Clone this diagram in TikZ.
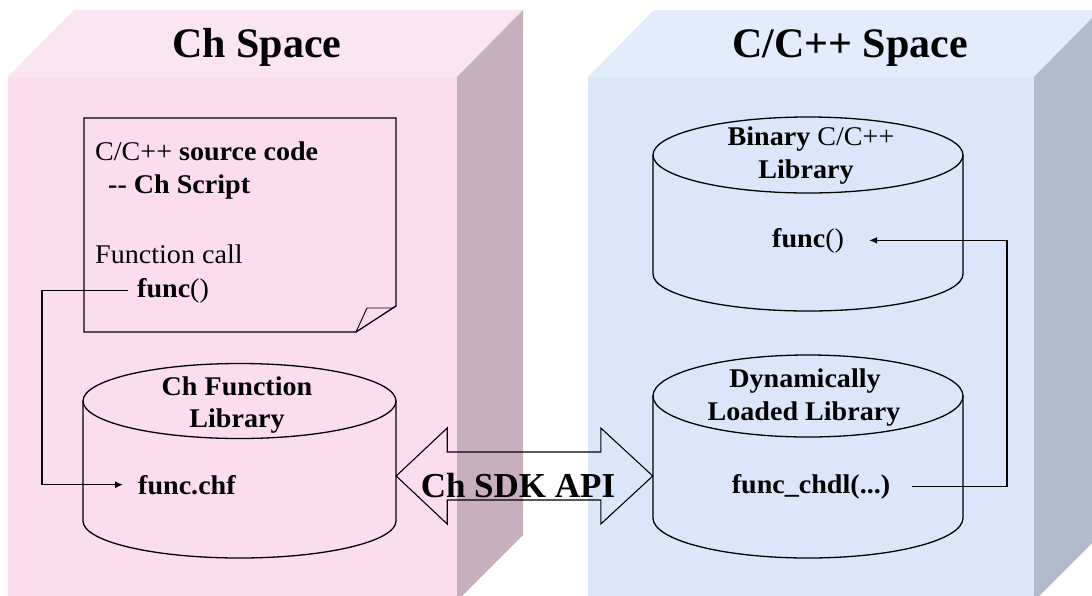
\documentclass[tikz,border=0pt]{standalone}
\usepackage{fontspec}
\setmainfont{Liberation Serif}
\newfontfamily\bodyfont{Liberation Serif}[FakeStretch=1.04]
\usetikzlibrary{arrows.meta,calc}
\definecolor{pinkfront}{RGB}{252,221,240}
\definecolor{pinktop}{RGB}{252,229,242}
\definecolor{pinkside}{RGB}{200,175,192}
\definecolor{bluefront}{RGB}{220,230,250}
\definecolor{bluetop}{RGB}{226,236,252}
\definecolor{blueside}{RGB}{178,187,204}
\begin{document}
\begin{tikzpicture}[x=1pt,y=-1pt,
  outline/.style={draw=black,line width=1.3pt},
  conn/.style={draw=black,line width=1.3pt,-{Latex[length=8pt,width=7pt]}},
  txt/.style={inner sep=0pt,font=\bodyfont\fontsize{27}{33}\selectfont},
  btxt/.style={inner sep=0pt,font=\bodyfont\fontsize{27}{33}\selectfont\bfseries},
  title/.style={inner sep=0pt,font=\fontsize{42}{50}\selectfont\bfseries,anchor=base},
  sdkfont/.style={inner sep=0pt,font=\fontsize{35}{40}\selectfont\bfseries,anchor=base},
  cylbox/.style={inner sep=0pt,minimum width=#1}
]
\clip (0,0) rectangle (1092,595);
\fill[white] (0,0) rectangle (1092,595);
% ---- Ch space block
\fill[pinkfront] (8,77) rectangle (457,601);
\fill[pinktop] (8,77) -- (74,10) -- (523,10) -- (457,77) -- cycle;
\fill[pinkside] (457,77) -- (523,10) -- (523,535) -- (457,601) -- cycle;
% ---- C/C++ space block
\fill[bluefront] (588,77) rectangle (1034,601);
\fill[bluetop] (588,77) -- (654,10) -- (1100,10) -- (1034,77) -- cycle;
\fill[blueside] (1034,77) -- (1100,10) -- (1100,535) -- (1034,601) -- cycle;
% titles
\node[title] (t1) at (257,57) {Ch Space};
\node[title] (t2) at (850,57) {C/C++ Space};
% ---- source code note
\draw[outline,line join=miter] (84,118) -- (396,118) -- (396,306) -- (356,332) -- (84,332) -- cycle;
\draw[black,line width=0.9pt] (356,332) -- (367,308) -- (394,308);
\node[txt,anchor=base west] (n1) at (95,160) {C/C++ \textbf{source code}};
\node[btxt,anchor=base west] (n2) at (108,193) {-{}- Ch Script};
\node[txt,anchor=base west] (n3) at (95,263) {Function call};
\node[txt,anchor=base west,inner xsep=9pt] (f1) at (128,297) {\textbf{func}()};
% ---- Ch Function Library cylinder
\node[cylbox=313pt,minimum height=195pt] (cyl1) at (239.5,460.5) {};
\draw[outline] (239.5,401) ellipse [x radius=156.5pt, y radius=37.5pt];
\draw[outline] (83,401) -- (83,521) arc[start angle=180,end angle=360,x radius=156.5pt,y radius=37pt] -- (396,401);
\node[btxt,anchor=base] (c1a) at (237,395) {Ch Function};
\node[btxt,anchor=base] (c1b) at (237,427) {Library};
\node[btxt,anchor=base west,inner xsep=15pt] (fchf) at (123,494) {func.chf};
\coordinate (xl) at (42,0);
\draw[conn] (f1.west) -- (f1.west -| xl) |- (fchf.west);
% ---- Binary C/C++ Library cylinder
\node[cylbox=310pt,minimum height=194pt] (cyl2) at (808,214) {};
\draw[outline] (808,155) ellipse [x radius=155pt, y radius=38pt];
\draw[outline] (653,155) -- (653,274) arc[start angle=180,end angle=360,x radius=155pt,y radius=37pt] -- (963,155);
\node[txt,anchor=base] (c2a) at (811,145) {\textbf{Binary} C/C++};
\node[btxt,anchor=base] (c2b) at (806,178) {Library};
\node[txt,anchor=base west,inner xsep=25pt] (fbin) at (747,247) {\textbf{func}()};
% ---- Dynamically Loaded Library cylinder
\node[cylbox=310pt,minimum height=205pt] (cyl3) at (808,455.5) {};
\draw[outline] (808,396) ellipse [x radius=155pt, y radius=41pt];
\draw[outline] (653,396) -- (653,518) arc[start angle=180,end angle=360,x radius=155pt,y radius=40pt] -- (963,396);
\node[btxt,anchor=base] (c3a) at (805,387) {Dynamically};
\node[btxt,anchor=base] (c3b) at (804,420) {Loaded Library};
\node[btxt,anchor=base,inner xsep=22pt] (fchdl) at (811,493) {func\_chdl(...)};
\coordinate (xr) at (1007,0);
\draw[conn] (fchdl.east) -- (fchdl.east -| xr) |- (fbin.east);
% ---- Ch SDK API double arrow
\coordinate (amid) at (524,476);
\coordinate (aL) at (cyl1.east |- amid);
\coordinate (aR) at (cyl3.west |- amid);
\draw[outline,line width=1.1pt,line join=miter] (aL) -- ($(aL)+(51,-48)$) -- ($(aL)+(51,-24)$) -- ($(aR)+(-52,-24)$) -- ($(aR)+(-52,-48)$) -- (aR)
  -- ($(aR)+(-52,48)$) -- ($(aR)+(-52,24)$) -- ($(aL)+(51,24)$) -- ($(aL)+(51,48)$) -- cycle;
\node[sdkfont] (sdk) at (518,497) {Ch SDK API};
\end{tikzpicture}
\end{document}
